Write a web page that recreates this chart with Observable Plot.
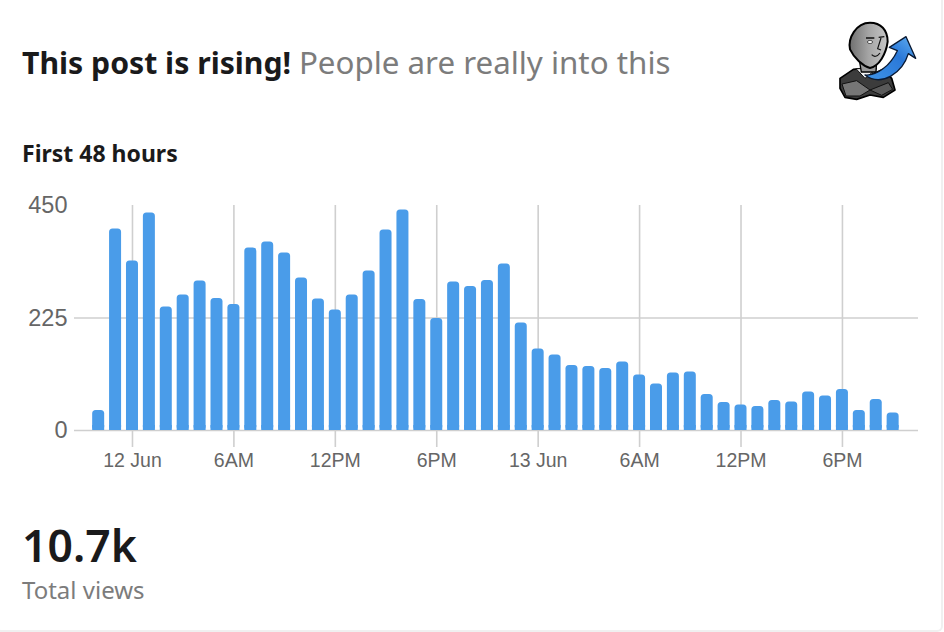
<!DOCTYPE html>
<html>
<head>
<meta charset="utf-8">
<script src="https://cdn.jsdelivr.net/npm/d3@7"></script>
<script src="https://cdn.jsdelivr.net/npm/@observablehq/plot@0.6"></script>
<style>
  html, body { margin: 0; padding: 0; background: #fff; }
  body { width: 944px; height: 632px; position: relative; overflow: hidden; font-family: "Noto Sans", sans-serif; }
  #card { position: absolute; left: -4px; top: -8px; width: 945px; height: 638px; border-right: 2px solid #f0f0f0; border-bottom: 2px solid #f0f0f0; border-radius: 6px; }
  .t { position: absolute; white-space: nowrap; line-height: 1; }
  #title { left: 22px; top: 47px; font-size: 30.2px; font-weight: 700; color: #1a1a1b; }
  #title span { font-size: 31.3px; font-weight: 400; color: #7c7c7c; margin-left: 0; }
  #sub { left: 22px; top: 142px; font-size: 23px; font-weight: 700; color: #1a1a1b; }
  #big { left: 22px; top: 523px; font-size: 44.5px; font-weight: 600; color: #1a1a1b; }
  #cap { left: 22px; top: 578px; font-size: 24px; color: #7c7c7c; }
  #chart { position: absolute; left: 0; top: 180px; }
  #chart svg { display: block; }
  #logo { position: absolute; left: 820px; top: 10px; }
</style>
</head>
<body>
<div id="card"></div>
<div class="t" id="title">This post is rising! <span>People are really into this</span></div>
<div class="t" id="sub">First 48 hours</div>
<div id="chart"></div>
<div class="t" id="big">10.7k</div>
<div class="t" id="cap">Total views</div>
<svg id="logo" width="124" height="100" viewBox="0 0 372 300">
  <defs>
    <linearGradient id="arrow" x1="0" y1="1" x2="1" y2="0">
      <stop offset="0" stop-color="#3f94e8"/><stop offset="0.6" stop-color="#2a78d8"/><stop offset="1" stop-color="#62b0f2"/>
    </linearGradient>
    <linearGradient id="face" x1="0" y1="0" x2="1" y2="0">
      <stop offset="0" stop-color="#6f6f6f"/><stop offset="0.5" stop-color="#a5a5a5"/><stop offset="1" stop-color="#c6c6c6"/>
    </linearGradient>
  </defs>
  <path d="M60 205 L100 178 L125 176 L150 195 L190 178 L215 205 L225 240 L190 262 L150 255 L110 268 L75 262 L60 235 Z" fill="#3c3c3c" stroke="#000" stroke-width="5" stroke-linejoin="round"/>
  <path d="M66 222 L110 212 L150 240 L120 258 L78 258 Z" fill="#767676" stroke="#111" stroke-width="3"/>
  <path d="M150 240 L205 218 L218 238 L185 256 Z" fill="#5a5a5a" stroke="#111" stroke-width="3"/>
  <path d="M108 176 L135 205 L170 176 Z" fill="#f2f2f2" stroke="#111" stroke-width="3"/>
  <path d="M118 150 L124 186 L168 186 L170 150 Z" fill="#9a9a9a" stroke="#000" stroke-width="4"/>
  <path d="M150 38 C108 38 83 85 90 118 C103 145 128 168 150 174 C178 168 198 132 203 95 C203 60 182 38 150 38 Z" fill="url(#face)" stroke="#000" stroke-width="6" stroke-linejoin="round"/>
  <ellipse cx="150" cy="96" rx="8" ry="4.5" fill="#fff" stroke="#111" stroke-width="2"/>
  <path d="M138 84 L163 84 M176 82 L193 80" stroke="#111" stroke-width="4"/>
  <path d="M183 84 L173 116 L183 120 M155 134 C162 142 172 140 180 129" stroke="#111" stroke-width="3.5" fill="none"/>
  <path d="M135 195 C172 198 212 165 232 122 L208 112 L258 80 L287 145 L265 131 C248 188 185 232 135 195 Z" fill="url(#arrow)" stroke="#0a1a33" stroke-width="4" stroke-linejoin="round"/>
</svg>
<script>
// Hour offset of the first bar relative to midnight on 12 Jun
const firstHour = -2;
const views = [40,403,339,435,247,271,299,264,252,365,377,355,305,263,241,271,319,401,441,262,224,297,288,300,333,215,163,151,130,128,124,137,111,93,115,117,72,56,51,48,60,57,77,69,82,40,62,35];
const tickHours = [0,6,12,18,24,30,36,42];
const tickLabels = ["12 Jun","6AM","12PM","6PM","13 Jun","6AM","12PM","6PM"];
const yTicks = [0,225,450];
const xDomain = [-3.43,46.5];
const barColor = "#4a9ce9";

const bars = views.map((v,i)=>({hour:firstHour+i, views:v}));
const labelOf = new Map(tickHours.map((h,i)=>[h,tickLabels[i]]));
const barShape = {x1:d=>d.hour-0.5, x2:d=>d.hour+0.5, y1:0, insetLeft:2.45, insetRight:2.45, fill:barColor};

const plot = Plot.plot({
  width: 944, height: 290,
  marginLeft: 74, marginRight: 26, marginTop: 25, marginBottom: 40,
  style: {background:"transparent", overflow:"visible"},
  x: {type:"linear", domain:xDomain},
  y: {domain:[0,450]},
  marks: [
    Plot.ruleY(yTicks.slice(0,2), {stroke:"#cfcfcf", strokeWidth:1.6, strokeOpacity:1}),
    Plot.ruleX(tickHours, {y1:0, y2:450, stroke:"#cfcfcf", strokeWidth:1.6}),
    Plot.rectY(bars, {...barShape, y2:"views", rx:3.5, ry:3.5}),
    Plot.rectY(bars, {...barShape, y2:d=>Math.min(d.views, 10)}),
    Plot.axisX({ticks:tickHours, tickSize:17, tickPadding:6, tickFormat:d=>labelOf.get(d), stroke:"#cfcfcf", strokeWidth:1.6, strokeOpacity:1, fill:"#666", fontSize:19.5, fontFamily:"Liberation Sans", label:null}),
    Plot.axisY({ticks:yTicks, tickSize:0, tickPadding:7, fill:"#666", fontSize:23.5, fontFamily:"Liberation Sans", label:null})
  ]
});
document.getElementById("chart").appendChild(plot);
</script>
</body>
</html>
